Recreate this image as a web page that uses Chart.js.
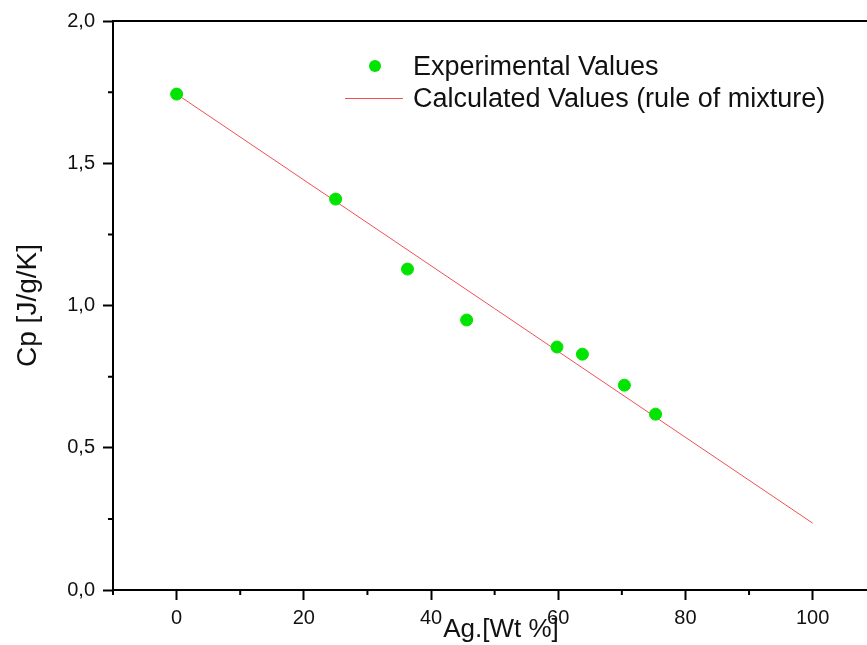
<!DOCTYPE html>
<html>
<head>
<meta charset="utf-8">
<script src="https://cdn.jsdelivr.net/npm/chart.js@4"></script>
<style>
  html, body { margin: 0; padding: 0; background: #fff; overflow: hidden; }
  #wrap { position: relative; width: 867px; height: 645px; overflow: hidden; }
  #legend { position: absolute; left: 345px; top: 50px; font-family: 'Liberation Sans', Arial, sans-serif; font-size: 27px; color: #111; }
  .item { position: relative; height: 32px; line-height: 32px; padding-left: 68px; white-space: nowrap; }
  .sym { position: absolute; top: 50%; }
</style>
</head>
<body>
<div id="wrap">
  <canvas id="firstChart" width="920" height="645" style="width:920px;height:645px"></canvas>
  <div id="legend"></div>
</div>
<script>
const expLabel = 'Experimental Values';
const calcLabel = 'Calculated Values (rule of mixture)';

const expX = [0, 25, 36.3, 45.6, 59.8, 63.8, 70.4, 75.3];
const expY = [1.743, 1.374, 1.128, 0.949, 0.854, 0.829, 0.72, 0.618];

const calcX = [0, 100];
const calcY = [1.743, 0.235];

const xTicks = [0, 20, 40, 60, 80, 100];
const xMinor = [-10, 10, 30, 50, 70, 90, 110];
const yMinor = [0.25, 0.75, 1.25, 1.75];

const ctx = document.getElementById('firstChart').getContext('2d');
const font = "'Liberation Sans', Arial, sans-serif";

const comma = v => v.toFixed(1).replace('.', ',');

// cadre du haut + petites graduations
const frame = {
  id: 'frame',
  afterDraw(chart) {
    const { ctx, chartArea: a, scales: { x, y } } = chart;
    ctx.save();
    ctx.strokeStyle = '#000';
    ctx.lineWidth = 2;
    ctx.beginPath();
    ctx.moveTo(a.left - 1, a.top);
    ctx.lineTo(a.right, a.top);
    ctx.lineTo(a.right, a.bottom);
    xMinor.forEach(v => {
      const px = x.getPixelForValue(v);
      ctx.moveTo(px, a.bottom);
      ctx.lineTo(px, a.bottom + 5);
    });
    yMinor.forEach(v => {
      const py = y.getPixelForValue(v);
      ctx.moveTo(a.left, py);
      ctx.lineTo(a.left - 5, py);
    });
    ctx.stroke();
    ctx.restore();
  }
};

const config = {
  type: 'scatter',
  data: {
    datasets: [
      {
        label: expLabel,
        data: expX.map((v, i) => ({ x: v, y: expY[i] })),
        backgroundColor: '#00e400',
        borderColor: '#00e400',
        pointRadius: 6,
        pointHoverRadius: 6,
        showLine: false
      },
      {
        label: calcLabel,
        data: calcX.map((v, i) => ({ x: v, y: calcY[i] })),
        borderColor: '#f05050',
        borderWidth: 1,
        pointRadius: 0,
        showLine: true
      }
    ]
  },
  options: {
    responsive: false,
    animation: false,
    layout: { padding: { top: 21, right: 31, left: 0, bottom: 0 } },
    plugins: {
      legend: { display: false },
      tooltip: { enabled: false }
    },
    scales: {
      x: {
        type: 'linear',
        min: -10,
        max: 112,
        afterBuildTicks: s => { s.ticks = xTicks.map(v => ({ value: v })); },
        afterFit: s => { s.height = 55; },
        border: { color: '#000', width: 2 },
        grid: { drawOnChartArea: false, drawTicks: true, tickLength: 10, tickColor: '#000', tickWidth: 2 },
        ticks: { color: '#111', padding: 6, maxRotation: 0, font: { family: font, size: 20 } },
        title: { display: true, text: 'Ag.[Wt %]', color: '#111', padding: { top: 0, bottom: 0 }, font: { family: font, size: 26 } }
      },
      y: {
        type: 'linear',
        min: 0,
        max: 2,
        afterFit: s => { s.width = 113; },
        border: { color: '#000', width: 2 },
        grid: { drawOnChartArea: false, drawTicks: true, tickLength: 10, tickColor: '#000', tickWidth: 2 },
        ticks: { stepSize: 0.5, color: '#111', padding: 8, font: { family: font, size: 20 }, callback: v => comma(v) },
        title: { display: true, text: 'Cp [J/g/K]', color: '#111', padding: { top: 11, bottom: 0 }, font: { family: font, size: 28 } }
      }
    }
  },
  plugins: [frame]
};

const myChart = new Chart(ctx, config);

// légende HTML
const legend = document.getElementById('legend');
myChart.data.datasets.forEach(ds => {
  const row = document.createElement('div');
  row.className = 'item';
  const sym = document.createElement('span');
  sym.className = 'sym';
  if (ds.showLine) {
    sym.style.cssText = `left:0;width:58px;height:0;border-top:1px solid ${ds.borderColor};`;
  } else {
    sym.style.cssText = `left:24px;width:12px;height:12px;margin-top:-6px;border-radius:50%;background:${ds.backgroundColor};`;
  }
  row.appendChild(sym);
  row.appendChild(document.createTextNode(ds.label));
  legend.appendChild(row);
});
</script>
</body>
</html>
